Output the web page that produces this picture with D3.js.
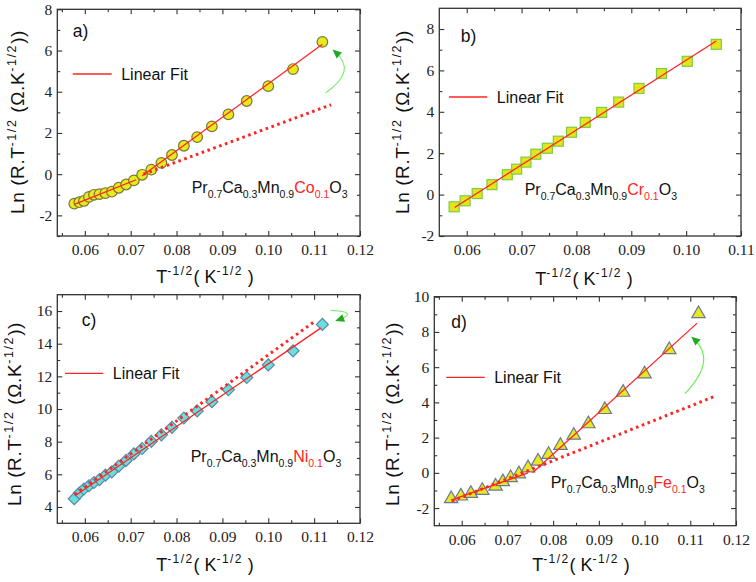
<!DOCTYPE html>
<html><head><meta charset="utf-8">
<script src="https://cdn.jsdelivr.net/npm/d3@7"></script>
<style>body{margin:0;background:#fff}svg{display:block}</style>
</head><body>
<svg id="chart" width="756" height="582"></svg>
<script>
// ---------- data ----------
const panelLabels = ["a)", "b)", "c)", "d)"];
const dopants = ["Co", "Cr", "Ni", "Fe"];

const xA = [0.0577,0.0588,0.0598,0.0609,0.0620,0.0632,0.0645,0.0659,0.0674,0.0690,0.0707,0.0725,0.0745,0.0767,0.0790,0.0816,0.0845,0.0877,0.0913,0.0953,0.1000,0.1054,0.1118];
const yA = [-1.43,-1.36,-1.30,-1.10,-1.00,-0.97,-0.92,-0.85,-0.66,-0.50,-0.30,-0.03,0.22,0.55,0.93,1.38,1.80,2.32,2.90,3.55,4.27,5.10,6.42];

const xB = [0.0577,0.0597,0.0619,0.0646,0.0674,0.0691,0.0708,0.0726,0.0747,0.0767,0.0791,0.0816,0.0846,0.0877,0.0914,0.0955,0.1002,0.1055];
const yB = [-0.59,-0.30,0.05,0.48,0.96,1.23,1.57,1.95,2.24,2.58,3.01,3.49,3.97,4.47,5.13,5.85,6.44,7.26];

const xC = [0.0577,0.0588,0.0598,0.0609,0.0620,0.0632,0.0645,0.0659,0.0674,0.0690,0.0707,0.0725,0.0745,0.0767,0.0790,0.0816,0.0845,0.0877,0.0913,0.0953,0.1000,0.1054,0.1118];
const yC = [4.51,4.85,5.10,5.30,5.50,5.68,5.95,6.15,6.50,6.85,7.25,7.58,8.02,8.42,8.88,9.45,9.88,10.45,11.18,11.93,12.70,13.56,15.18];

const xD = [0.0577,0.0598,0.0620,0.0645,0.0674,0.0690,0.0707,0.0725,0.0745,0.0767,0.0790,0.0816,0.0845,0.0877,0.0913,0.0953,0.1000,0.1054,0.1118];
const yD = [-1.47,-1.32,-1.17,-1.00,-0.76,-0.51,-0.28,-0.06,0.28,0.66,1.04,1.55,2.13,2.78,3.59,4.57,5.61,6.99,9.03];

// fit lines (solid) and extrapolated fits (dotted): [[x1,y1],[x2,y2]]
const fitA = [[[0.0577,-1.47],[0.0712,-0.27]], [[0.0725,-0.08],[0.1118,6.30]]];
const dotA = [[[0.0728,0.00],[0.1137,3.37]]];
const fitB = [[[0.0578,-0.62],[0.1055,7.42]]];
const dotB = [];
const fitC = [[[0.0578,4.67],[0.1115,14.97]]];
const dotC = [[[0.0578,4.77],[0.1103,15.40]]];
const fitD = [[[0.0577,-1.55],[0.0745,0.00]], [[0.0755,0.00],[0.1115,8.50]]];
const dotD = [[[0.0578,-1.60],[0.1157,4.38]]];

// green curved arrows (start, control, end) in data units
const arrowA = [[0.1125,3.95],[0.1195,5.0],[0.1145,5.95]];
const arrowC = [[0.1136,16.05],[0.1200,15.95],[0.1152,15.45]];
const arrowD = [[0.1088,4.49],[0.1160,6.4],[0.1107,7.62]];

// axes
const xDomA = [0.054, 0.12], xDomB = [0.055, 0.11], xDomC = [0.054, 0.12], xDomD = [0.054, 0.12];
const yDomA = [-3, 8], yDomB = [-2, 9], yDomC = [3, 17], yDomD = [-3, 10];
const xTicks12 = [0.06,0.07,0.08,0.09,0.10,0.11,0.12];
const xTicks11 = [0.06,0.07,0.08,0.09,0.10,0.11];
const xMinor12 = [0.055,0.065,0.075,0.085,0.095,0.105,0.115];
const xMinor11 = [0.065,0.075,0.085,0.095,0.105];
const yTicksA = [-2,0,2,4,6,8], yMinorA = [-3,-1,1,3,5,7];
const yTicksB = [-2,0,2,4,6,8], yMinorB = [-1,1,3,5,7];
const yTicksC = [4,6,8,10,12,14,16], yMinorC = [5,7,9,11,13,15];
const yTicksD = [-2,0,2,4,6,8,10], yMinorD = [-1,1,3,5,7,9];

// ---------- drawing ----------
const svg = d3.select("#chart");
const RED = "#ff2424";
const SANS = "'Liberation Sans', Arial, sans-serif";
const SERIF = "'Liberation Serif', 'Times New Roman', serif";

const panels = [
  {box:{l:57.3,r:360,t:9.3,b:236}, xd:xDomA, yd:yDomA, xt:xTicks12, xm:xMinor12, yt:yTicksA, ym:yMinorA,
   xs:xA, ys:yA, marker:"circle", fill:"#e9e91e", stroke:"#77773a", fits:fitA, dots:dotA, arrow:arrowA,
   lab:[72.7,37], leg:[72.7,111.7,74], form:[191.7,192.5], xl:[205,283], yl:[24,122]},
  {box:{l:439.3,r:741,t:8.3,b:236}, xd:xDomB, yd:yDomB, xt:xTicks11, xm:xMinor11, yt:yTicksB, ym:yMinorB,
   xs:xB, ys:yB, marker:"square", fill:"#e4e41c", stroke:"#7ccc44", fits:fitB, dots:dotB, arrow:null,
   lab:[460.7,42.3], leg:[449,487.3,97], form:[524.7,195], xl:[584,285], yl:[409,122]},
  {box:{l:57.3,r:360,t:294.7,b:523.3}, xd:xDomC, yd:yDomC, xt:xTicks12, xm:xMinor12, yt:yTicksC, ym:yMinorC,
   xs:xC, ys:yC, marker:"diamond", fill:"#6ae0dc", stroke:"#5a86a8", fits:fitC, dots:dotC, arrow:arrowC,
   lab:[81.7,325.5], leg:[65,103.3,373.3], form:[190.7,462], xl:[205,571], yl:[21,414]},
  {box:{l:434.3,r:736,t:296.7,b:525.7}, xd:xDomD, yd:yDomD, xt:xTicks12, xm:xMinor12, yt:yTicksD, ym:yMinorD,
   xs:xD, ys:yD, marker:"triangle", fill:"#e8e81e", stroke:"#6878a0", fits:fitD, dots:dotD, arrow:arrowD,
   lab:[451.3,328.3], leg:[446.3,484.7,377.3], form:[550.7,488.3], xl:[581,571], yl:[399,414]}
];

function styleAxis(g) {
  g.select(".domain").remove();
  g.selectAll(".tick line").attr("stroke", "#333").attr("stroke-width", 1.1);
  g.selectAll(".tick text").attr("font-family", SERIF).attr("font-size", 15.5).attr("fill", "#222");
}

panels.forEach((p, i) => {
  const B = p.box;
  const x = d3.scaleLinear().domain(p.xd).range([B.l, B.r]);
  const y = d3.scaleLinear().domain(p.yd).range([B.b, B.t]);
  const g = svg.append("g");

  // axes: major ticks (inward) with labels, minor ticks, mirrored top/right
  g.append("g").attr("transform", `translate(0,${B.b})`)
    .call(d3.axisBottom(x).tickValues(p.xt).tickSize(-5).tickPadding(8).tickFormat(d3.format(".2f")))
    .call(styleAxis);
  g.append("g").attr("transform", `translate(0,${B.b})`)
    .call(d3.axisBottom(x).tickValues(p.xm).tickSize(-3).tickFormat("")).call(styleAxis);
  g.append("g").attr("transform", `translate(0,${B.t})`)
    .call(d3.axisTop(x).tickValues(p.xt).tickSize(-5).tickFormat("")).call(styleAxis);
  g.append("g").attr("transform", `translate(0,${B.t})`)
    .call(d3.axisTop(x).tickValues(p.xm).tickSize(-3).tickFormat("")).call(styleAxis);
  g.append("g").attr("transform", `translate(${B.l},0)`)
    .call(d3.axisLeft(y).tickValues(p.yt).tickSize(-5).tickPadding(5).tickFormat(d => String(d)))
    .call(styleAxis);
  g.append("g").attr("transform", `translate(${B.l},0)`)
    .call(d3.axisLeft(y).tickValues(p.ym).tickSize(-3).tickFormat("")).call(styleAxis);
  g.append("g").attr("transform", `translate(${B.r},0)`)
    .call(d3.axisRight(y).tickValues(p.yt).tickSize(-5).tickFormat("")).call(styleAxis);
  g.append("g").attr("transform", `translate(${B.r},0)`)
    .call(d3.axisRight(y).tickValues(p.ym).tickSize(-3).tickFormat("")).call(styleAxis);

  // frame
  g.append("rect").attr("x", B.l).attr("y", B.t).attr("width", B.r - B.l).attr("height", B.b - B.t)
    .attr("fill", "none").attr("stroke", "#333").attr("stroke-width", 1.3);

  // markers
  const pts = p.xs.map((v, k) => [v, p.ys[k]]);
  const mk = g.append("g");
  pts.forEach(d => {
    const cx = x(d[0]), cy = y(d[1]);
    let el;
    if (p.marker === "circle") {
      el = mk.append("circle").attr("cx", cx).attr("cy", cy).attr("r", 5.3);
    } else if (p.marker === "square") {
      el = mk.append("rect").attr("x", cx - 5).attr("y", cy - 5).attr("width", 10).attr("height", 10);
    } else if (p.marker === "diamond") {
      el = mk.append("path").attr("d", d3.symbol(d3.symbolSquare, 72)())
        .attr("transform", `translate(${cx},${cy}) rotate(45)`);
    } else {
      el = mk.append("path").attr("d", d3.symbol(d3.symbolTriangle, 78)())
        .attr("transform", `translate(${cx},${cy})`);
    }
    el.attr("fill", p.fill).attr("stroke", p.stroke).attr("stroke-width", 1.2);
  });

  // fit lines
  const line = d3.line().x(d => x(d[0])).y(d => y(d[1]));
  p.fits.forEach(s => g.append("path").attr("d", line(s)).attr("fill", "none")
    .attr("stroke", RED).attr("stroke-width", 1.3));
  p.dots.forEach(s => g.append("path").attr("d", line(s)).attr("fill", "none")
    .attr("stroke", RED).attr("stroke-width", 3).attr("stroke-dasharray", "2.6,3.6"));

  // green arrow
  if (p.arrow) {
    const [a0, a1, a2] = p.arrow.map(d => [x(d[0]), y(d[1])]);
    g.append("path").attr("d", `M${a0[0]},${a0[1]} Q${a1[0]},${a1[1]} ${a2[0]},${a2[1]}`)
      .attr("fill", "none").attr("stroke", "#6ef05a").attr("stroke-width", 1.1);
    const ang = Math.atan2(a2[1] - a1[1], a2[0] - a1[0]);
    const L = 9, W = 4;
    const tip = [a2[0] + Math.cos(ang) * 3, a2[1] + Math.sin(ang) * 3];
    const bx = tip[0] - Math.cos(ang) * L, by = tip[1] - Math.sin(ang) * L;
    const nx = -Math.sin(ang) * W, ny = Math.cos(ang) * W;
    g.append("path").attr("d", `M${tip[0]},${tip[1]} L${bx + nx},${by + ny} L${bx - nx},${by - ny} Z`)
      .attr("fill", "#1faa22");
  }

  // panel letter
  g.append("text").attr("x", p.lab[0]).attr("y", p.lab[1]).text(panelLabels[i])
    .attr("font-family", SANS).attr("font-size", 17.5).attr("fill", "#111");

  // legend
  g.append("line").attr("x1", p.leg[0]).attr("x2", p.leg[1]).attr("y1", p.leg[2]).attr("y2", p.leg[2])
    .attr("stroke", RED).attr("stroke-width", 1.3);
  g.append("text").attr("x", p.leg[1] + 9.5).attr("y", p.leg[2] + 5.6).text("Linear Fit")
    .attr("font-family", SANS).attr("font-size", 16).attr("fill", "#111");

  // chemical formula
  const ft = g.append("text").attr("x", p.form[0]).attr("y", p.form[1])
    .attr("font-family", SANS).attr("font-size", 16).attr("fill", "#111");
  const parts = [["Pr", 0, null], ["0.7", 1, null], ["Ca", 0, null], ["0.3", 1, null], ["Mn", 0, null], ["0.9", 1, null],
                 [dopants[i], 0, RED], ["0.1", 1, RED], ["O", 0, null], ["3", 1, null]];
  let prevSub = 0;
  parts.forEach(([t, sub, col]) => {
    const ts = ft.append("tspan").text(t).attr("dy", (sub - prevSub) * 5)
      .attr("font-size", sub ? 10.5 : 16);
    if (col) ts.attr("fill", col);
    prevSub = sub;
  });

  // x axis title
  const xt = g.append("text").attr("x", p.xl[0]).attr("y", p.xl[1]).attr("text-anchor", "middle")
    .attr("font-family", SANS).attr("font-size", 18).attr("fill", "#111");
  xt.append("tspan").text("T");
  xt.append("tspan").text("-1/2").attr("font-size", 12).attr("dy", -8).attr("letter-spacing", 1.4);
  xt.append("tspan").text("( K").attr("dy", 8);
  xt.append("tspan").text("-1/2").attr("font-size", 12).attr("dy", -8).attr("letter-spacing", 1.4);
  xt.append("tspan").text(" )").attr("dy", 8);

  // y axis title
  const yt = g.append("text").attr("transform", `translate(${p.yl[0]},${p.yl[1]}) rotate(-90)`)
    .attr("text-anchor", "middle").attr("font-family", SANS).attr("font-size", 19).attr("fill", "#111")
    .attr("letter-spacing", 0.6);
  yt.append("tspan").text("Ln (R.T");
  yt.append("tspan").text("-1/2").attr("font-size", 12.5).attr("dy", -8).attr("letter-spacing", 1.6);
  yt.append("tspan").text(" (Ω.K").attr("dy", 8);
  yt.append("tspan").text("-1/2").attr("font-size", 12.5).attr("dy", -8).attr("letter-spacing", 1.6);
  yt.append("tspan").text("))").attr("dy", 8);
});
</script>
</body></html>
